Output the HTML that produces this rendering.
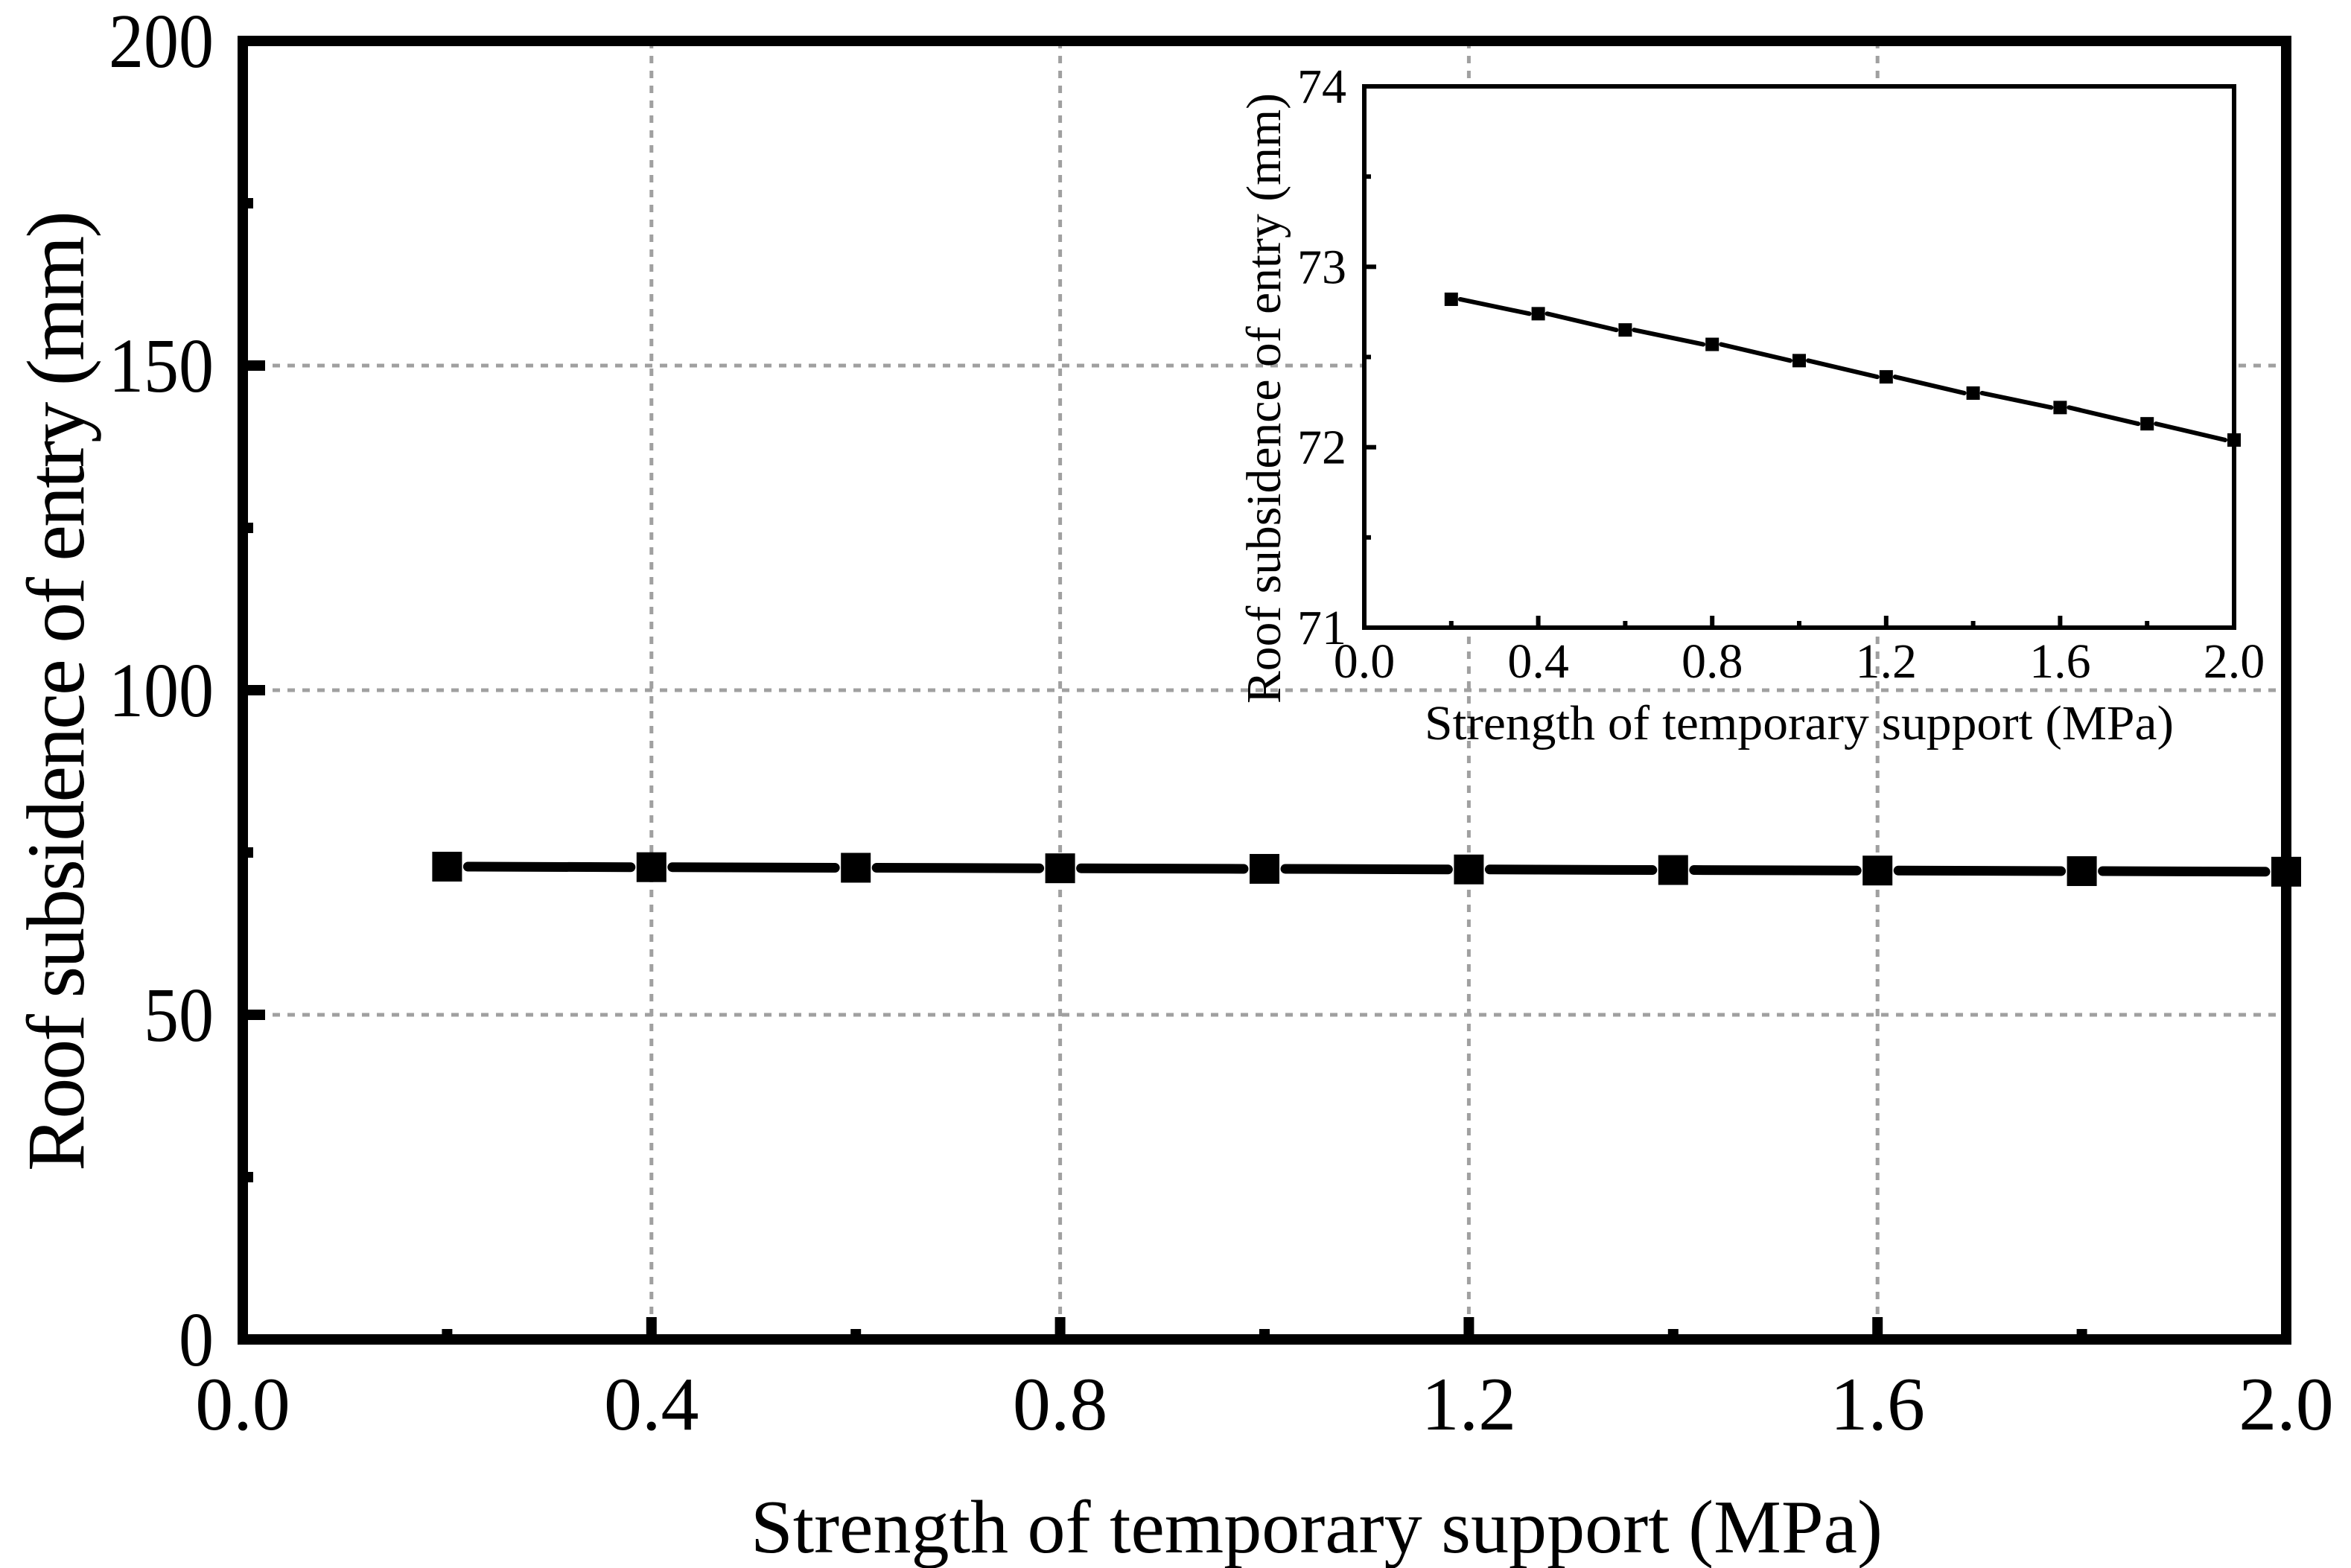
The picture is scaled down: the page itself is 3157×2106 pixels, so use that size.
<!DOCTYPE html>
<html><head><meta charset="utf-8"><style>
html,body{margin:0;padding:0;background:#fff}
svg{display:block}
text{font-family:"Liberation Serif",serif;fill:#000}
</style></head><body>
<svg id="chart" width="3157" height="2106" viewBox="0 0 3157 2106" xmlns="http://www.w3.org/2000/svg"></svg>
<script>
const xValues=[0.2,0.4,0.6,0.8,1.0,1.2,1.4,1.6,1.8,2.0];
const yValues=[72.82,72.74,72.65,72.57,72.48,72.39,72.30,72.22,72.13,72.04];
const xTickLabels=["0.0","0.4","0.8","1.2","1.6","2.0"];
const yTickLabels=["0","50","100","150","200"];
const insetYTickLabels=["71","72","73","74"];

const NS="http://www.w3.org/2000/svg";
const svg=document.getElementById('chart');
function el(tag,attrs,parent){const e=document.createElementNS(NS,tag);for(const k in attrs)e.setAttribute(k,attrs[k]);(parent||svg).appendChild(e);return e;}

const M={x0:326,x1:3070,y0:1799,y1:55,xmin:0,xmax:2,ymin:0,ymax:200};
const I={x0:1832,x1:3000,y0:843,y1:116,xmin:0,xmax:2,ymin:71,ymax:74};
function sx(a,v){return a.x0+(v-a.xmin)/(a.xmax-a.xmin)*(a.x1-a.x0);}
function sy(a,v){return a.y0-(v-a.ymin)/(a.ymax-a.ymin)*(a.y0-a.y1);}

const grid=el('g',{});


[0.4,0.8,1.2,1.6].forEach(v=>{const x=sx(M,v);el('line',{x1:x,y1:M.y1,x2:x,y2:M.y0,stroke:'#a0a0a0','stroke-width':5,'stroke-dasharray':'10 10'},grid);});
[50,100,150].forEach(v=>{const y=sy(M,v);el('line',{x1:M.x0,y1:y,x2:M.x1,y2:y,stroke:'#a0a0a0','stroke-width':5,'stroke-dasharray':'10 10'},grid);});

const ticks=el('g',{});


for(let i=1;i<10;i++){const v=i*0.2;const x=sx(M,v);const len=(i%2==0)?30:14;el('line',{x1:x,y1:M.y0,x2:x,y2:M.y0-len,stroke:'#000','stroke-width':14},ticks);}
for(let i=1;i<8;i++){const v=i*25;const y=sy(M,v);const len=(i%2==0)?30:14;el('line',{x1:M.x0,y1:y,x2:M.x0+len,y2:y,stroke:'#000','stroke-width':14},ticks);}

const frame=el('rect',{x:M.x0,y:M.y1,width:M.x1-M.x0,height:M.y0-M.y1,fill:'none',stroke:'#000','stroke-width':14});



xTickLabels.forEach(t=>{const x=sx(M,parseFloat(t));const e=el('text',{x:x,y:1920,'font-size':102,'text-anchor':'middle'});e.textContent=t;

});
yTickLabels.forEach(t=>{const y=sy(M,parseFloat(t));const e=el('text',{x:287,y:y+35,'font-size':104,'text-anchor':'end',textLength:t.length*47,lengthAdjust:'spacingAndGlyphs'});e.textContent=t;

});

const xt=el('text',{x:1768,y:2085,'font-size':102,'text-anchor':'middle',textLength:1520,lengthAdjust:'spacingAndGlyphs'});xt.textContent='Strength of temporary support (MPa)';


const yt=el('text',{x:0,y:0,'font-size':110,'text-anchor':'middle',textLength:1290,lengthAdjust:'spacing',transform:'translate(112,928) rotate(-90)'});yt.textContent='Roof subsidence of entry (mm)';



const ser=el('g',{});


for(let i=0;i<xValues.length-1;i++){el('line',{x1:sx(M,xValues[i])+28,y1:sy(M,yValues[i]),x2:sx(M,xValues[i+1])-28,y2:sy(M,yValues[i+1]),stroke:'#000','stroke-width':13,'stroke-linecap':'round'},ser);}
xValues.forEach((v,i)=>{const x=sx(M,v),y=sy(M,yValues[i]);const r=el('rect',{x:x-20,y:y-20,width:40,height:40,fill:'#000'},ser);

});

const ins=el('g',{});


el('rect',{x:I.x0,y:I.y1,width:I.x1-I.x0,height:I.y0-I.y1,fill:'#fff',stroke:'#000','stroke-width':6},ins);
for(let i=1;i<10;i++){const x=sx(I,i*0.2);const len=(i%2==0)?16:9;el('line',{x1:x,y1:I.y0,x2:x,y2:I.y0-len,stroke:'#000','stroke-width':6},ins);}
for(let i=1;i<6;i++){const y=sy(I,71+i*0.5);const len=(i%2==0)?16:9;el('line',{x1:I.x0,y1:y,x2:I.x0+len,y2:y,stroke:'#000','stroke-width':6},ins);}
xTickLabels.forEach(t=>{const e=el('text',{x:sx(I,parseFloat(t)),y:910,'font-size':66,'text-anchor':'middle'},ins);e.textContent=t;

});
insetYTickLabels.forEach(t=>{const e=el('text',{x:1808,y:sy(I,parseFloat(t))+22,'font-size':66,'text-anchor':'end'},ins);e.textContent=t;

});
const ixt=el('text',{x:2416,y:993,'font-size':66,'text-anchor':'middle',textLength:1006,lengthAdjust:'spacingAndGlyphs'},ins);ixt.textContent='Strength of temporary support (MPa)';


const iyt=el('text',{x:0,y:0,'font-size':66,'text-anchor':'middle',textLength:820,lengthAdjust:'spacingAndGlyphs',transform:'translate(1719,535) rotate(-90)'},ins);iyt.textContent='Roof subsidence of entry (mm)';


for(let i=0;i<xValues.length-1;i++){el('line',{x1:sx(I,xValues[i])+12,y1:sy(I,yValues[i]),x2:sx(I,xValues[i+1])-12,y2:sy(I,yValues[i+1]),stroke:'#000','stroke-width':6,'stroke-linecap':'round'},ins);}
xValues.forEach((v,i)=>{const x=sx(I,v),y=sy(I,yValues[i]);const r=el('rect',{x:x-9,y:y-9,width:18,height:18,fill:'#000'},ins);

});
</script>
</body></html>
